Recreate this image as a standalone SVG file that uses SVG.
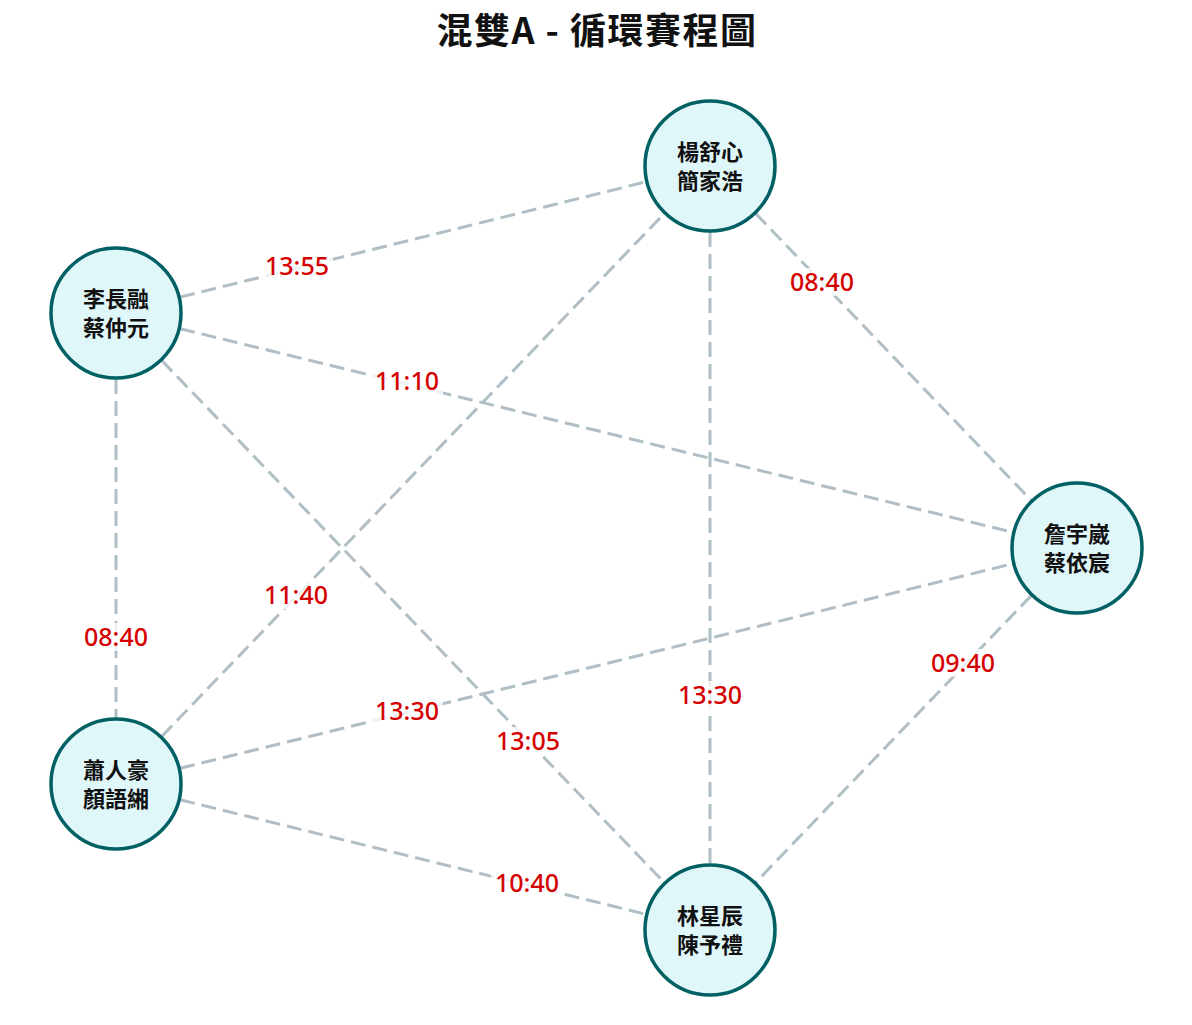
<svg xmlns="http://www.w3.org/2000/svg" width="1192" height="1025" viewBox="0 0 1192 1025">
<style>
.edge{stroke:#b0bec5;stroke-width:3;stroke-dasharray:15 7;fill:none}
.lblbg{fill:#ffffff;fill-opacity:0.8}
.lbl{font-family:"Noto Sans","Noto Sans CJK TC",sans-serif;font-size:25px;font-weight:500;fill:#d50000;text-anchor:middle}
.node circle{fill:#e0f7fa;stroke:#006064;stroke-width:3.5}
.node text{font-family:"Noto Sans CJK TC","Noto Sans",sans-serif;font-size:22px;font-weight:bold;fill:#111;text-anchor:middle}
.title{font-family:"Noto Sans CJK TC","Noto Sans",sans-serif;font-size:36px;font-weight:bold;fill:#111;text-anchor:middle;letter-spacing:1.5px}
</style>
<rect width="1192" height="1025" fill="#ffffff"/>
<text class="title" x="597" y="44">混雙A - 循環賽程圖</text>
<g id="connectors">
<line class="edge" x1="116" y1="313" x2="710" y2="166"/>
<line class="edge" x1="116" y1="313" x2="1077" y2="548"/>
<line class="edge" x1="710" y1="166" x2="1077" y2="548"/>
<line class="edge" x1="116" y1="313" x2="116" y2="784"/>
<line class="edge" x1="116" y1="784" x2="710" y2="166"/>
<line class="edge" x1="116" y1="784" x2="1077" y2="548"/>
<line class="edge" x1="116" y1="313" x2="710" y2="930"/>
<line class="edge" x1="710" y1="166" x2="710" y2="930"/>
<line class="edge" x1="1077" y1="548" x2="710" y2="930"/>
<line class="edge" x1="116" y1="784" x2="710" y2="930"/>
</g>
<g id="labels">
<rect class="lblbg" x="261" y="252" width="72" height="28"/><text class="lbl" x="297" y="275">13:55</text>
<rect class="lblbg" x="371" y="367" width="72" height="28"/><text class="lbl" x="407" y="390">11:10</text>
<rect class="lblbg" x="786" y="268" width="72" height="28"/><text class="lbl" x="822" y="291">08:40</text>
<rect class="lblbg" x="80" y="623" width="72" height="28"/><text class="lbl" x="116" y="646">08:40</text>
<rect class="lblbg" x="260" y="581" width="72" height="28"/><text class="lbl" x="296" y="604">11:40</text>
<rect class="lblbg" x="371" y="697" width="72" height="28"/><text class="lbl" x="407" y="720">13:30</text>
<rect class="lblbg" x="492" y="727" width="72" height="28"/><text class="lbl" x="528" y="750">13:05</text>
<rect class="lblbg" x="674" y="681" width="72" height="28"/><text class="lbl" x="710" y="704">13:30</text>
<rect class="lblbg" x="927" y="649" width="72" height="28"/><text class="lbl" x="963" y="672">09:40</text>
<rect class="lblbg" x="491" y="869" width="72" height="28"/><text class="lbl" x="527" y="892">10:40</text>
</g>
<g id="node-A" class="node"><circle cx="710" cy="166" r="65"/><text x="710" y="160">楊舒心</text><text x="710" y="189">簡家浩</text></g>
<g id="node-B" class="node"><circle cx="116" cy="313" r="65"/><text x="116" y="307">李長融</text><text x="116" y="336">蔡仲元</text></g>
<g id="node-C" class="node"><circle cx="1077" cy="548" r="65"/><text x="1077" y="542">詹宇崴</text><text x="1077" y="571">蔡依宸</text></g>
<g id="node-D" class="node"><circle cx="116" cy="784" r="65"/><text x="116" y="778">蕭人豪</text><text x="116" y="807">顏語緗</text></g>
<g id="node-E" class="node"><circle cx="710" cy="930" r="65"/><text x="710" y="924">林星辰</text><text x="710" y="953">陳予禮</text></g>
</svg>
